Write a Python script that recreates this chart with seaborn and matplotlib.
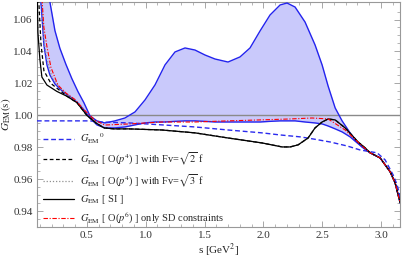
import numpy as np
import seaborn as sns
import matplotlib.pyplot as plt

# ---------------------------------------------------------
# Data
# ---------------------------------------------------------
s_band = [0.109, 0.134, 0.160, 0.185, 0.228, 0.270, 0.321, 0.372, 0.423, 0.474,
          0.526, 0.585, 0.653, 0.738, 0.823, 0.909, 0.994, 1.079, 1.164, 1.249,
          1.334, 1.419, 1.504, 1.589, 1.700, 1.802, 1.887, 1.972, 2.057, 2.143,
          2.202, 2.270, 2.355, 2.440, 2.500, 2.551, 2.611, 2.670, 2.738, 2.789,
          2.840, 2.909, 2.994, 3.079, 3.121, 3.164]
band_hi = [1.097, 1.085, 1.077, 1.071, 1.053, 1.042, 1.032, 1.023, 1.015, 1.008,
           0.9997, 0.9966, 0.9953, 0.9966, 0.9984, 1.0022, 1.0097, 1.0191, 1.0316, 1.0397,
           1.0422, 1.0409, 1.0378, 1.0353, 1.0334, 1.0366, 1.0422, 1.0528, 1.0628, 1.0691,
           1.0703, 1.0678, 1.0584, 1.0441, 1.0316, 1.0184, 1.0047, 0.9966, 0.9891, 0.9841,
           0.9803, 0.9766, 0.9734, 0.9647, 0.9578, 0.9453]
band_lo = [1.0709, 1.0441, 1.0316, 1.0253, 1.0197, 1.0166, 1.0134, 1.0109, 1.0078, 1.0034,
           0.9984, 0.9941, 0.9922, 0.9922, 0.9928, 0.9941, 0.9953, 0.9959, 0.9959, 0.9963,
           0.9966, 0.9966, 0.9963, 0.9959, 0.9959, 0.9959, 0.9959, 0.9959, 0.9963, 0.9966,
           0.9966, 0.9966, 0.9959, 0.9953, 0.9947, 0.9934, 0.9916, 0.9897, 0.9866, 0.9834,
           0.9803, 0.9766, 0.9734, 0.9647, 0.9578, 0.9453]

s_g0 = [0.074, 0.526, 0.611, 0.866, 1.138, 1.419, 1.700, 1.989, 2.143, 2.313,
        2.423, 2.568, 2.713, 2.823, 2.968, 3.036, 3.104, 3.138, 3.164]
g0 = [0.9966, 0.9966, 0.9959, 0.9953, 0.9941, 0.9928, 0.9909, 0.9891, 0.9878, 0.9866,
      0.9853, 0.9834, 0.9809, 0.9784, 0.9766, 0.9722, 0.9628, 0.9566, 0.9491]

# common part of the SI / O(p^4) curves above s ~ 0.4
s_tail = [0.415, 0.500, 0.577, 0.645, 0.730, 0.849, 1.138, 1.419, 1.700, 1.989,
          2.160, 2.228, 2.296, 2.381, 2.440, 2.500, 2.551, 2.611, 2.696, 2.806,
          2.866, 2.909, 2.994, 3.079, 3.121, 3.164]
g_tail = [1.008, 1.000, 0.9953, 0.9922, 0.9916, 0.9916, 0.9909, 0.9891, 0.9859, 0.9828,
          0.9803, 0.9803, 0.9816, 0.9859, 0.9922, 0.9959, 0.9978, 0.9972, 0.9922, 0.9834,
          0.9797, 0.9766, 0.9734, 0.9647, 0.9578, 0.9453]

s_si = [0.074, 0.079, 0.083, 0.100, 0.117, 0.160, 0.245, 0.330] + s_tail
g_si = [1.085, 1.071, 1.052, 1.035, 1.024, 1.019, 1.015, 1.012] + g_tail

s_p4a = [0.083, 0.091, 0.109, 0.134, 0.194, 0.262, 0.330] + s_tail
g_p4a = [1.085, 1.071, 1.045, 1.028, 1.020, 1.016, 1.012] + g_tail

s_p4b = [0.109, 0.117, 0.134, 0.160, 0.202, 0.262, 0.330] + s_tail
g_p4b = [1.085, 1.071, 1.047, 1.035, 1.024, 1.018, 1.013] + g_tail

s_p6 = [0.113, 0.134, 0.160, 0.194, 0.253, 0.321, 0.398, 0.483, 0.568, 0.653,
        0.866, 1.138, 1.419, 1.700, 1.972, 2.228, 2.415, 2.551, 2.696, 2.840,
        2.909, 2.994, 3.079, 3.121, 3.164]
g_p6 = [1.078, 1.055, 1.043, 1.030, 1.019, 1.014, 1.010, 1.003, 0.997, 0.994,
        0.9947, 0.9959, 0.9959, 0.9966, 0.9972, 0.9978, 0.9984, 0.9978, 0.9909, 0.9809,
        0.9766, 0.9734, 0.9647, 0.9578, 0.9453]

labels = [r"$G_{\rm EM}{}^{0}$",
          r"$G_{\rm EM}$ [ O($p^4$) ] with Fv=$\sqrt{2}$ f",
          r"$G_{\rm EM}$ [ O($p^4$) ] with Fv=$\sqrt{3}$ f",
          r"$G_{\rm EM}$ [ SI ]",
          r"$G_{\rm EM}$ [ O($p^6$) ] only SD constraints"]

# ---------------------------------------------------------
# Plot
# ---------------------------------------------------------
sns.set_style("ticks")
plt.rcParams["font.family"] = ["Liberation Serif", "DejaVu Serif"]
plt.rcParams["mathtext.fontset"] = "stix"

fig = plt.figure(figsize=(4.03, 2.59), dpi=100)
ax = fig.add_axes([0.092, 0.124, 0.901, 0.868])

ax.fill_between(s_band, band_lo, band_hi, color="#c9c9fb", lw=0, zorder=1)
ax.axhline(1.0, color="#8a8a8a", lw=1.0, zorder=2)
sns.lineplot(x=s_band, y=band_hi, ax=ax, color="#2323ee", lw=1.0, zorder=3)
sns.lineplot(x=s_band, y=band_lo, ax=ax, color="#2323ee", lw=1.0, zorder=3)

sns.lineplot(x=s_g0, y=g0, ax=ax, color="#2a2aee", lw=1.0,
             linestyle=(0, (3.5, 2)), label=labels[0], zorder=4)
sns.lineplot(x=s_p4a, y=g_p4a, ax=ax, color="black", lw=0.9,
             linestyle=(0, (3, 2)), label=labels[1], zorder=4)
sns.lineplot(x=s_p4b, y=g_p4b, ax=ax, color="#909090", lw=0.9,
             linestyle=(0, (1, 1.5)), label=labels[2], zorder=4)
sns.lineplot(x=s_si, y=g_si, ax=ax, color="black", lw=0.9,
             label=labels[3], zorder=4)
sns.lineplot(x=s_p6, y=g_p6, ax=ax, color="red", lw=0.8,
             linestyle=(0, (4, 1.5, 1, 1.5)), label=labels[4], zorder=4)

ax.set_xlim(0.076, 3.164)
ax.set_ylim(0.9303, 1.0709)
ax.set_xticks([0.5, 1.0, 1.5, 2.0, 2.5, 3.0])
ax.set_yticks([0.94, 0.96, 0.98, 1.00, 1.02, 1.04, 1.06])
ax.set_xticks(np.arange(0.1, 3.15, 0.1), minor=True)
ax.set_yticks(np.arange(0.935, 1.07, 0.005), minor=True)
ax.xaxis.set_major_formatter(plt.FormatStrFormatter("%.1f"))
ax.yaxis.set_major_formatter(plt.FormatStrFormatter("%.2f"))
ax.tick_params(which="both", direction="in", top=True, right=True,
               color="#999999", labelsize=8, labelcolor="#333333")
ax.tick_params(which="major", length=4, width=0.6, pad=3)
ax.tick_params(which="minor", length=2, width=0.5)
for sp in ax.spines.values():
    sp.set_color("#999999")
    sp.set_linewidth(0.8)

ax.set_xlabel(r"s [GeV$^2$]", fontsize=8, color="#222222", labelpad=1)
ax.set_ylabel(r"$G_{\rm EM}(\rm s)$", fontsize=8, color="#222222", labelpad=0)

ax.legend(loc="lower left", bbox_to_anchor=(0.0, -0.025), frameon=False,
          fontsize=7.5, handlelength=2.9, handletextpad=0.6,
          labelspacing=0.45, borderaxespad=0.2)

fig.savefig("out.png", dpi=100)
